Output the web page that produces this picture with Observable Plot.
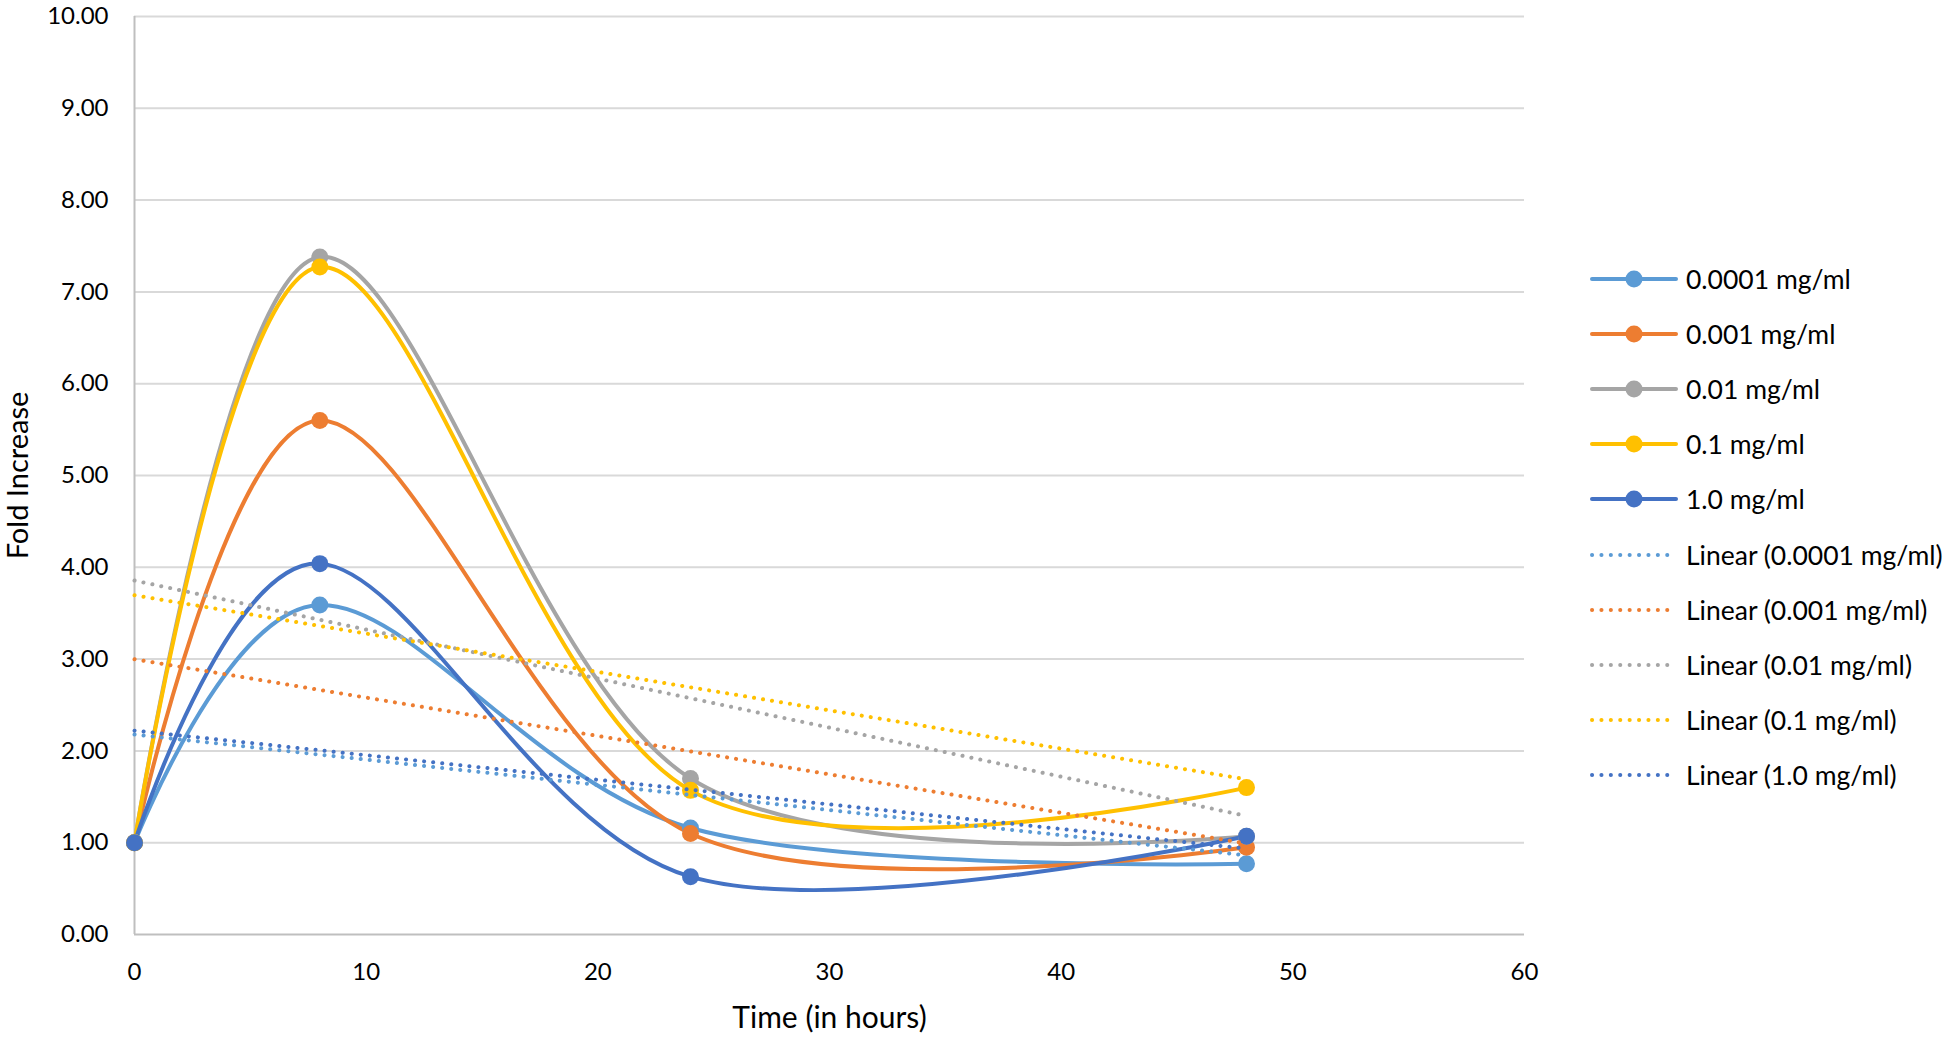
<!DOCTYPE html>
<html>
<head>
<meta charset="utf-8">
<script src="https://cdn.jsdelivr.net/npm/d3@7"></script>
<script src="https://cdn.jsdelivr.net/npm/@observablehq/plot@0.6"></script>
<style>
  html, body { margin: 0; padding: 0; background: #fff; }
  #wrap { position: relative; width: 1946px; height: 1037px; font-family: Lato, "Open Sans", sans-serif; overflow: hidden; }
  #legend { position: absolute; left: 1590px; top: 0; }
  .row { position: absolute; left: 0; display: flex; align-items: center; height: 40px; white-space: nowrap; font-size: 26.5px; color: #000; }
  .row svg { margin-right: 8px; flex: none; }
</style>
</head>
<body>
<div id="wrap"><div id="legend"></div></div>
<script>
const times = [0, 8, 24, 48];
const concentrations = ["0.0001 mg/ml", "0.001 mg/ml", "0.01 mg/ml", "0.1 mg/ml", "1.0 mg/ml"];
const fold_0_0001 = [1.00, 3.59, 1.16, 0.77];
const fold_0_001  = [1.00, 5.60, 1.10, 0.95];
const fold_0_01   = [1.00, 7.38, 1.70, 1.07];
const fold_0_1    = [1.00, 7.27, 1.57, 1.60];
const fold_1_0    = [1.00, 4.04, 0.63, 1.07];
const seriesColors = ["#5B9BD5", "#ED7D31", "#A5A5A5", "#FFC000", "#4472C4"];
const yTicks = [0, 1, 2, 3, 4, 5, 6, 7, 8, 9, 10];
const xTicks = [0, 10, 20, 30, 40, 50, 60];

const allSeries = [fold_0_0001, fold_0_001, fold_0_01, fold_0_1, fold_1_0];
const table = [];
allSeries.forEach((vals, i) => {
  vals.forEach((v, j) => table.push({series: concentrations[i], time: times[j], fold: v}));
});

const font = "Lato, 'Open Sans', sans-serif";
const chart = Plot.plot({
  width: 1946,
  height: 1037,
  marginLeft: 134,
  marginRight: 422,
  marginTop: 16,
  marginBottom: 103,
  style: {fontFamily: font, fontSize: "24px", color: "#000", background: "transparent", overflow: "visible"},
  x: {domain: [0, 60], ticks: xTicks, tickSize: 0, tickPadding: 28, label: null},
  y: {domain: [0, 10], ticks: yTicks, tickSize: 0, tickPadding: 26, tickFormat: d3.format(".2f"), label: null},
  color: {domain: concentrations, range: seriesColors},
  marks: [
    Plot.ruleY(yTicks.filter(d => d > 0), {stroke: "#d9d9d9", strokeWidth: 2, strokeOpacity: 1}),
    Plot.ruleY([0], {stroke: "#bfbfbf", strokeWidth: 2}),
    Plot.ruleX([0], {stroke: "#bfbfbf", strokeWidth: 2}),
    Plot.line(table, {x: "time", y: "fold", z: "series", stroke: "series", strokeWidth: 4, curve: "cardinal"}),
    Plot.dot(table, {x: "time", y: "fold", fill: "series", r: 8.5}),
    Plot.linearRegressionY(table, {x: "time", y: "fold", z: "series", stroke: "series", ci: 0,
      strokeWidth: 4, strokeDasharray: "0.1 9", strokeLinecap: "round"}),
    Plot.axisX({ticks: xTicks, tickSize: 0, tickPadding: 28, label: null, fontSize: 24}),
    Plot.axisY({ticks: yTicks, tickSize: 0, tickPadding: 26, tickFormat: d3.format(".2f"), label: null, fontSize: 24}),
    Plot.text(["Time (in hours)"], {frameAnchor: "bottom", dy: 93, fontSize: 30, text: d => d}),
    Plot.text(["Fold Increase"], {frameAnchor: "left", dx: -116, rotate: -90, textAnchor: "middle", fontSize: 29, text: d => d})
  ]
});
document.getElementById("wrap").prepend(chart);

// Legend
const legend = document.getElementById("legend");
const entries = [];
concentrations.forEach((c, i) => entries.push({label: c, color: seriesColors[i], trend: false}));
concentrations.forEach((c, i) => entries.push({label: "Linear (" + c + ")", color: seriesColors[i], trend: true}));
entries.forEach((e, k) => {
  const row = document.createElement("div");
  row.className = "row";
  row.style.top = (279 + k * 55.1 - 20) + "px";
  const ns = "http://www.w3.org/2000/svg";
  const sw = document.createElementNS(ns, "svg");
  sw.setAttribute("width", 88); sw.setAttribute("height", 20);
  const ln = document.createElementNS(ns, "line");
  ln.setAttribute("x1", 2); ln.setAttribute("x2", 86); ln.setAttribute("y1", 10); ln.setAttribute("y2", 10);
  ln.setAttribute("stroke", e.color); ln.setAttribute("stroke-width", 4);
  ln.setAttribute("stroke-linecap", "round");
  if (e.trend) ln.setAttribute("stroke-dasharray", "0.1 9.3");
  sw.appendChild(ln);
  if (!e.trend) {
    const c = document.createElementNS(ns, "circle");
    c.setAttribute("cx", 44); c.setAttribute("cy", 10); c.setAttribute("r", 8.5); c.setAttribute("fill", e.color);
    sw.appendChild(c);
  }
  row.appendChild(sw);
  const t = document.createElement("span");
  t.textContent = e.label;
  row.appendChild(t);
  legend.appendChild(row);
});
</script>
</body>
</html>
